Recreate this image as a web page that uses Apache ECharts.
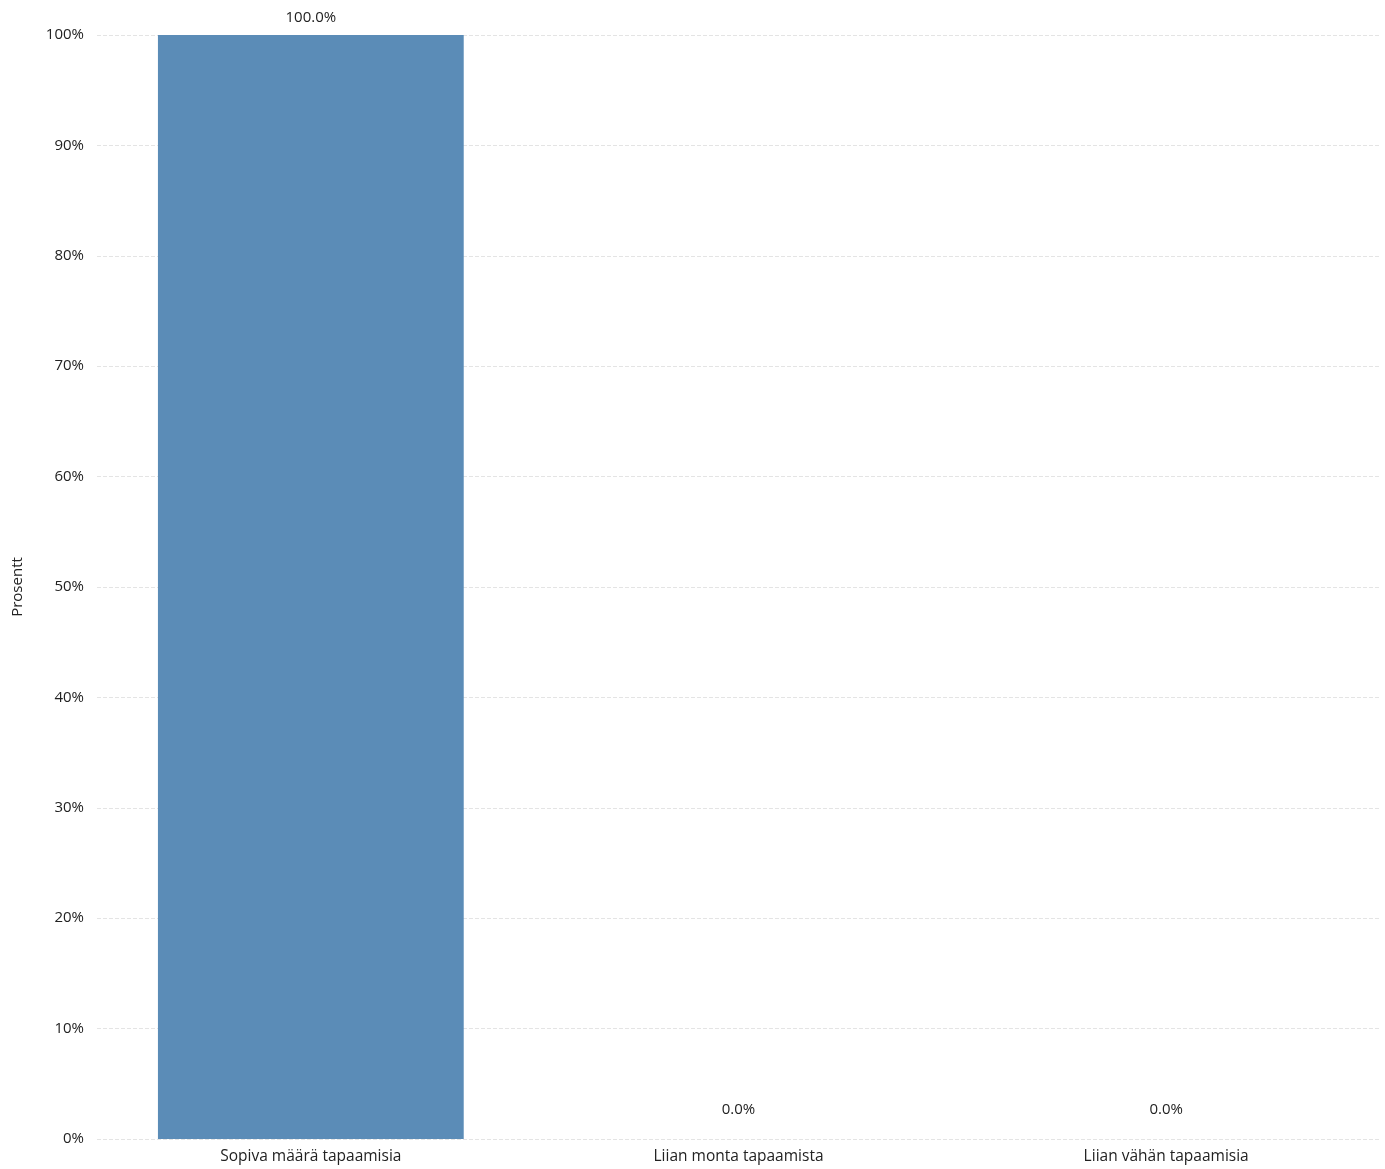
<!DOCTYPE html>
<html><head><meta charset="utf-8">
<script src="https://cdn.jsdelivr.net/npm/echarts@6/dist/echarts.min.js"></script>
<style>html,body{margin:0;padding:0;background:#fff}#c{width:1385px;height:1169px}</style>
</head><body><div id="c"></div>
<script>
const categories = ["Sopiva määrä tapaamisia", "Liian monta tapaamista", "Liian vähän tapaamisia"];
const values = [100.0, 0.0, 0.0];
const yTicks = [0, 10, 20, 30, 40, 50, 60, 70, 80, 90, 100];

const chart = echarts.init(document.getElementById('c'));
chart.setOption({
  backgroundColor: '#fff',
  textStyle: { fontFamily: 'Open Sans' },
  grid: { left: 97, right: 5, top: 35, bottom: 30 },
  xAxis: {
    type: 'category', data: categories,
    axisLine: { show: false }, axisTick: { show: false },
    axisLabel: { color: '#222', fontSize: 15.5, margin: 10 }
  },
  yAxis: {
    type: 'value', min: yTicks[0], max: yTicks[yTicks.length - 1], interval: 10,
    name: 'Prosentt', nameLocation: 'middle', nameGap: 72, nameRotate: 90,
    nameTextStyle: { color: '#222', fontSize: 15 },
    axisLine: { show: false }, axisTick: { show: false },
    axisLabel: { color: '#222', fontSize: 15, margin: 13, formatter: '{value}%' },
    splitLine: { lineStyle: { color: '#e4e4e4', type: 'dashed' } }
  },
  series: [{
    type: 'bar', barWidth: '71.5%',
    data: values.map(v => v === 0 ? { value: v, label: { distance: 22 } } : v),
    itemStyle: { color: '#5b8cb7' },
    label: { show: true, position: 'top', color: '#222', fontSize: 15, distance: 10,
      formatter: p => p.value.toFixed(1) + '%' }
  }]
});
</script></body></html>
